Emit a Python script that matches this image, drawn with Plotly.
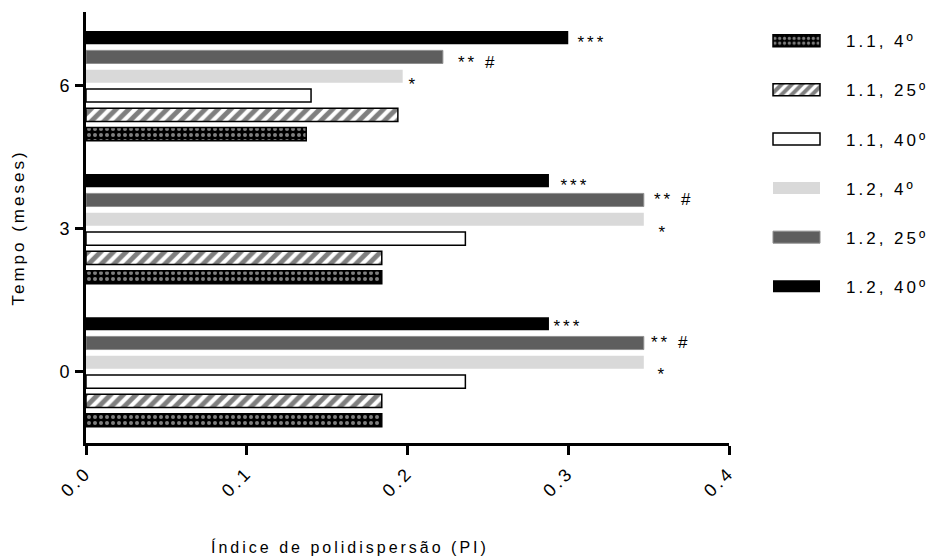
import plotly.graph_objects as go

# ---- data -------------------------------------------------------------
months = [0, 3, 6]                      # Tempo (meses)
series_names = ["1.1, 4º", "1.1, 25º", "1.1, 40º", "1.2, 4º", "1.2, 25º", "1.2, 40º"]

pi_11_4 = [0.184, 0.184, 0.137]
pi_11_25 = [0.184, 0.184, 0.194]
pi_11_40 = [0.236, 0.236, 0.140]
pi_12_4 = [0.347, 0.347, 0.197]
pi_12_25 = [0.347, 0.347, 0.222]
pi_12_40 = [0.288, 0.288, 0.300]

sig_12_4 = ["*", "*", "*"]
sig_12_25 = ["** #", "** #", "** #"]
sig_12_40 = ["***", "***", "***"]

x_tick_vals = [0.0, 0.1, 0.2, 0.3, 0.4]
y_tick_vals = [0, 3, 6]

series_values = [pi_11_4, pi_11_25, pi_11_40, pi_12_4, pi_12_25, pi_12_40]
series_sig = {3: sig_12_4, 4: sig_12_25, 5: sig_12_40}

# ---- styling ----------------------------------------------------------
FONT = "Arial, Liberation Sans, sans-serif"
PITCH = 0.405      # distance between neighbouring bars (y units)
BAR_W = 0.275      # bar thickness (y units)

styles = [
    dict(color="black", line=dict(color="black", width=1.5),
         pattern=dict(shape=".", fgcolor="white", size=6, solidity=0.35, fillmode="overlay")),
    dict(color="white", line=dict(color="black", width=1.5),
         pattern=dict(shape="/", fgcolor="black", size=9, solidity=0.55, fillmode="overlay")),
    dict(color="white", line=dict(color="black", width=1.5)),
    dict(color="#d9d9d9", line=dict(color="#d9d9d9", width=0)),
    dict(color="#5e5e5e", line=dict(color="#8f8f8f", width=1)),
    dict(color="black", line=dict(color="black", width=0)),
]

# pixel nudges for the significance marks, keyed by (series, month)
nudges = {
    (5, 6): (12, -5), (4, 6): (19, -6), (3, 6): (5, -8),
    (5, 3): (14, -5), (4, 3): (14, 0), (3, 3): (14, -13),
    (5, 0): (7, -3), (4, 0): (11, 1), (3, 0): (13, -12),
}

fig = go.Figure()
for i, (name, vals) in enumerate(zip(series_names, series_values)):
    off = (i - 2.5) * PITCH - BAR_W / 2
    fig.add_trace(go.Bar(
        x=vals, y=months, name=name, orientation="h",
        offset=off, width=BAR_W,
        marker=styles[i], legendgroup=name,
    ))

annotations = []
for i, labels in series_sig.items():
    for m, v, lab in zip(months, series_values[i], labels):
        dx, dy = nudges[(i, m)]
        annotations.append(dict(
            x=v, y=m + (i - 2.5) * PITCH, xref="x", yref="y",
            text=lab, showarrow=False, xanchor="left", yanchor="middle",
            xshift=dx, yshift=dy, font=dict(family=FONT, size=17, color="black"),
        ))

annotations.append(dict(
    x=0.4106, y=-0.2413, xref="paper", yref="paper",
    text="Índice de polidispersão (PI)", showarrow=False,
    xanchor="center", yanchor="middle",
    font=dict(family=FONT, size=16, color="black"),
))

fig.update_layout(
    width=944, height=557,
    margin=dict(l=86, r=215, t=12, b=114),
    paper_bgcolor="white", plot_bgcolor="white",
    barmode="overlay", showlegend=True,
    font=dict(family=FONT, size=16, color="black"),
    legend=dict(
        x=1.028, y=0.974, xanchor="left", yanchor="top",
        traceorder="grouped", tracegroupgap=24, itemwidth=89,
        font=dict(family=FONT, size=17, color="black"),
        bgcolor="rgba(0,0,0,0)",
    ),
    annotations=annotations,
    xaxis=dict(
        range=[0, 0.4], tickvals=x_tick_vals, tickformat=".1f", tickangle=-45,
        showline=True, linecolor="black", linewidth=3,
        ticks="outside", ticklen=9, tickwidth=3, tickcolor="black",
        showgrid=False, zeroline=False,
        tickfont=dict(family=FONT, size=18, color="black"),
    ),
    yaxis=dict(
        range=[-1.49, 7.55], tickvals=y_tick_vals,
        showline=True, linecolor="black", linewidth=3,
        ticks="outside", ticklen=8, tickwidth=3, tickcolor="black",
        showgrid=False, zeroline=False,
        tickfont=dict(family=FONT, size=18, color="black"),
        title=dict(text="Tempo (meses)", standoff=33,
                   font=dict(family=FONT, size=17, color="black")),
    ),
)

# widen text tracking, stretch the legend keys into long swatches and let
# the legend text run past the computed legend box
post = """
var gd = document.getElementById('{plot_id}');
function track(sel, v) {
  gd.querySelectorAll(sel).forEach(function (t) { t.style.letterSpacing = v; });
}
track('.xtick text', '3px');
track('.ytick text', '2px');
track('.ytitle', '3px');
track('.legendtext', '3px');
track('.annotation-text', '3px');
gd.querySelectorAll('.legendpoints path').forEach(function (p) {
  p.setAttribute('d', 'M-23.5,-6H23.5V6H-23.5Z');
});
gd.querySelectorAll('.legend [clip-path]').forEach(function (g) {
  g.removeAttribute('clip-path');
});
"""

fig.write_html("out.html", post_script=post, config={"displayModeBar": False})
